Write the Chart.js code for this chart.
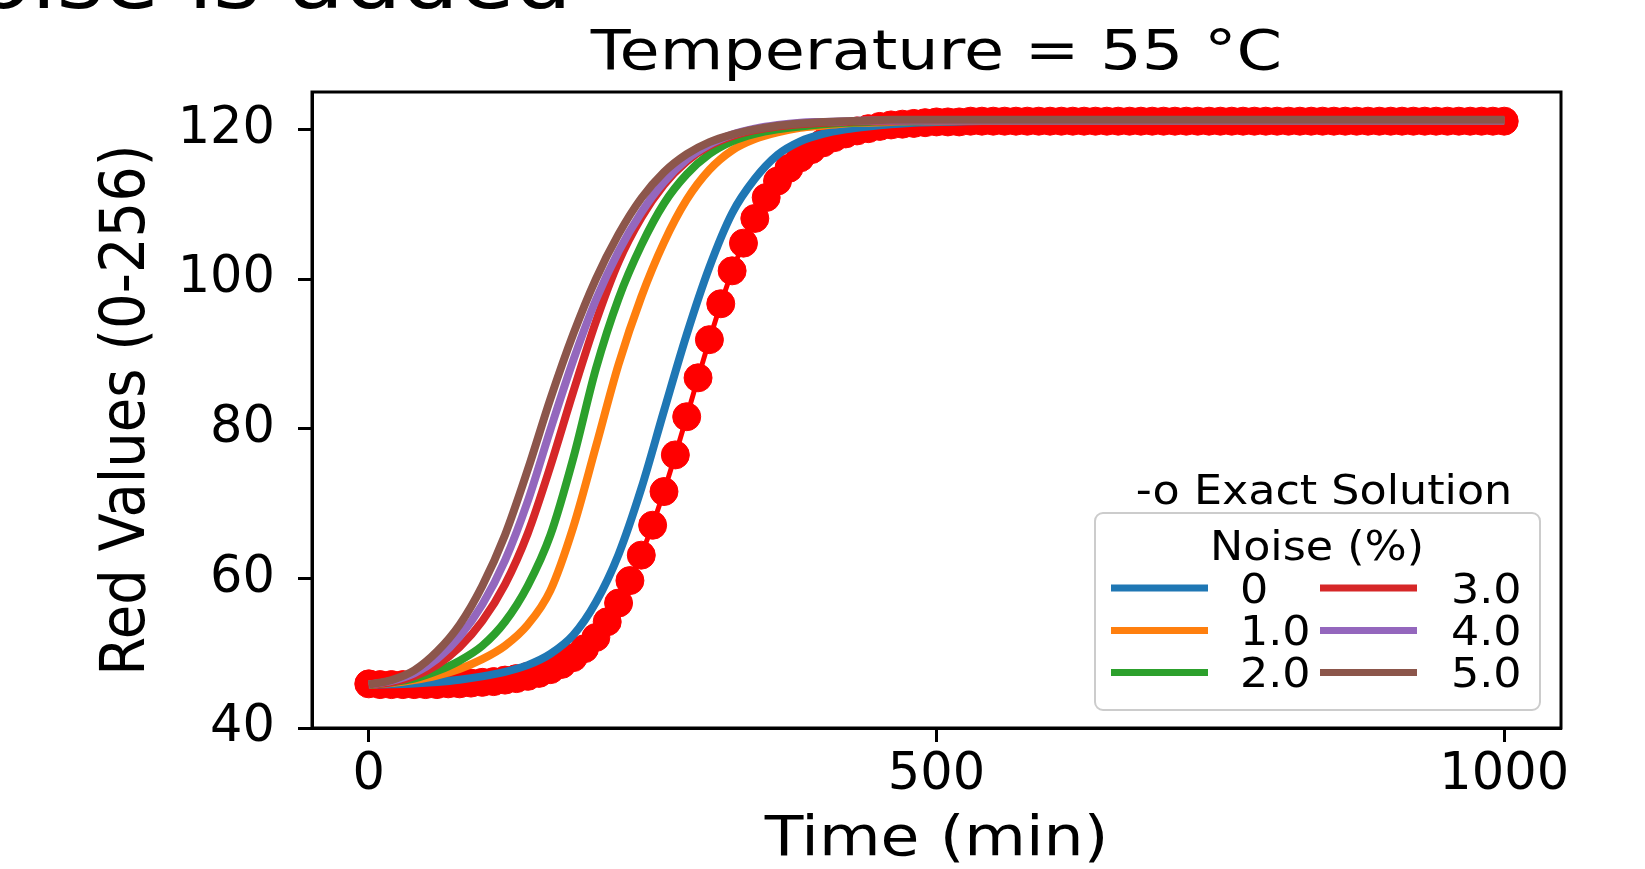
<!DOCTYPE html>
<html><head><meta charset="utf-8">
<script src="https://cdn.jsdelivr.net/npm/chart.js@4.4.0/dist/chart.umd.min.js"></script>
<style>html,body{margin:0;padding:0;background:#fff;overflow:hidden}canvas{display:block}</style>
</head><body>
<canvas id="c" width="1645" height="869"></canvas>
<script>
const chartTitle = 'Temperature = 55 \u00B0C';
const xAxisTitle = 'Time (min)';
const yAxisTitle = 'Red Values (0-256)';
const topFragment = 'noise is added';
const exactLabel = '-o Exact Solution';
const legendTitle = 'Noise (%)';
const xTicks = [0, 500, 1000];
const yTicks = [40, 60, 80, 100, 120];

const exactTime = [0,10,20,30,40,50,60,70,80,90,100,110,120,130,140,150,160,170,180,190,200,210,220,230,240,250,260,270,280,290,300,310,320,330,340,350,360,370,380,390,400,410,420,430,440,450,460,470,480,490,500,510,520,530,540,550,560,570,580,590,600,610,620,630,640,650,660,670,680,690,700,710,720,730,740,750,760,770,780,790,800,810,820,830,840,850,860,870,880,890,900,910,920,930,940,950,960,970,980,990,1000];
const exactValues = [45.9,45.8,45.8,45.8,45.8,45.8,45.8,45.9,45.9,46.0,46.1,46.2,46.4,46.6,46.9,47.3,47.8,48.5,49.4,50.6,52.1,54.2,56.7,59.7,63.1,67.1,71.6,76.5,81.6,86.8,91.9,96.7,101.1,104.8,108.1,110.9,113.1,114.8,116.2,117.3,118.2,118.9,119.4,119.8,120.1,120.4,120.6,120.7,120.8,120.9,121.0,121.0,121.0,121.1,121.1,121.1,121.1,121.1,121.1,121.1,121.1,121.1,121.1,121.1,121.1,121.1,121.1,121.1,121.1,121.1,121.1,121.1,121.1,121.1,121.1,121.1,121.1,121.1,121.1,121.1,121.1,121.1,121.1,121.1,121.1,121.1,121.1,121.1,121.1,121.1,121.1,121.1,121.1,121.1,121.1,121.1,121.1,121.1,121.1,121.1,121.1];

const noiseTime = [0,20,40,60,80,100,120,140,160,180,200,220,240,260,280,300,320,340,360,380,400,420,440,460,480,500,600,700,800,900,1000];
const noise0 = [45.8,45.85,45.95,46.15,46.45,46.9,47.5,48.4,49.9,52.4,56.8,63.2,72.0,82.4,92.6,101.6,108.8,113.4,116.6,118.4,119.4,120.0,120.4,120.7,120.9,121.0,121.2,121.2,121.2,121.2,121.2];
const noise1 = [45.8,46.0,46.4,47.0,47.9,49.2,51.0,53.8,58.4,66.8,77.6,88.6,97.6,104.9,110.6,114.6,117.2,118.7,119.6,120.2,120.5,120.8,120.9,121.0,121.1,121.1,121.2,121.2,121.2,121.2,121.2];
const noise2 = [45.8,46.1,46.6,47.6,49.0,51.0,54.2,59.0,65.8,76.0,88.0,97.4,104.5,110.1,114.0,116.7,118.4,119.4,120.0,120.4,120.7,120.9,121.0,121.1,121.1,121.2,121.2,121.2,121.2,121.2,121.2];
const noise3 = [45.8,46.1,46.9,48.4,50.8,54.3,59.2,66.0,75.0,84.9,94.3,102.3,108.2,112.6,115.7,117.8,119.1,119.9,120.4,120.7,120.9,121.0,121.1,121.1,121.2,121.2,121.2,121.2,121.2,121.2,121.2];
const noise4 = [45.8,46.3,47.3,49.2,52.2,56.5,62.4,70.3,79.9,89.1,97.2,103.7,108.9,113.0,116.0,118.0,119.3,120.1,120.6,120.9,121.0,121.1,121.2,121.2,121.2,121.2,121.2,121.2,121.2,121.2,121.2];
const noise5 = [45.8,46.4,47.7,50.2,53.8,59.0,65.8,74.5,84.0,92.6,100.0,106.0,110.8,114.3,116.7,118.3,119.3,120.0,120.5,120.8,121.0,121.1,121.2,121.3,121.3,121.3,121.3,121.3,121.3,121.3,121.3];
const noiseSeries = [noise0, noise1, noise2, noise3, noise4, noise5];
const noiseLabels = ['0', '1.0', '2.0', '3.0', '4.0', '5.0'];
const noiseColors = ['#1f77b4', '#ff7f0e', '#2ca02c', '#d62728', '#9467bd', '#8c564b'];

const FONT = 'DejaVu Sans';
Chart.defaults.font.family = FONT;
Chart.defaults.color = '#000';

const datasets = [{
  label: 'Exact Solution',
  data: exactTime.map((t, i) => ({x: t, y: exactValues[i]})),
  borderColor: '#ff0000', backgroundColor: '#ff0000',
  borderWidth: 5, tension: 0,
  pointRadius: 14, pointBorderWidth: 1,
  pointBackgroundColor: '#ff0000', pointBorderColor: '#ff0000',
  order: 7
}];
noiseSeries.forEach((s, k) => {
  datasets.push({
    label: noiseLabels[k],
    data: noiseTime.map((t, i) => ({x: t, y: s[i]})),
    borderColor: noiseColors[k], backgroundColor: noiseColors[k],
    borderWidth: 8, pointRadius: 0, cubicInterpolationMode: 'monotone',
    borderCapStyle: 'butt', order: 6 - k
  });
});

function wideText(ctx, text, x, y, sx, align, baseline, rot) {
  ctx.save();
  ctx.translate(x, y);
  if (rot) { ctx.rotate(rot); ctx.scale(1, sx); } else { ctx.scale(sx, 1); }
  ctx.textAlign = align;
  ctx.textBaseline = baseline;
  ctx.fillText(text, 0, 0);
  ctx.restore();
}

const decor = {
  id: 'decor',
  afterDatasetsDraw(chart) {
    const {ctx, chartArea: a} = chart;
    ctx.save();
    ctx.strokeStyle = '#000'; ctx.lineWidth = 3;
    ctx.strokeRect(a.left, a.top, a.right - a.left, a.bottom - a.top);
    ctx.restore();
  },
  afterDraw(chart) {
    const {ctx, chartArea: a} = chart;
    const cx = (a.left + a.right) / 2;
    const cy = (a.top + a.bottom) / 2;
    ctx.save();
    ctx.fillStyle = '#000';
    // cut-off text fragment at the top edge
    ctx.font = '80px "' + FONT + '"';
    wideText(ctx, topFragment, 572, 8, 1.13, 'right', 'alphabetic');
    // chart title and axis titles
    ctx.font = '56px "' + FONT + '"';
    wideText(ctx, chartTitle, cx, 54, 1.165, 'center', 'middle');
    wideText(ctx, xAxisTitle, cx, 840, 1.13, 'center', 'middle');
    wideText(ctx, yAxisTitle, 128, cy, 1.12, 'center', 'middle', -Math.PI / 2);
    // exact solution note
    ctx.font = '40px "' + FONT + '"';
    wideText(ctx, exactLabel, 1324, 504, 1.11, 'center', 'alphabetic');
    // legend frame
    ctx.beginPath();
    ctx.roundRect(1095, 513, 445, 197, 8);
    ctx.fillStyle = 'rgba(255,255,255,0.8)'; ctx.fill();
    ctx.strokeStyle = '#cccccc'; ctx.lineWidth = 2; ctx.stroke();
    ctx.fillStyle = '#000';
    wideText(ctx, legendTitle, 1317, 560, 1.11, 'center', 'alphabetic');
    const rows = [588, 630.5, 672.5];
    const lineX = [1111, 1320];
    const textX = [1240, 1451];
    chart.data.datasets.slice(1).forEach((d, i) => {
      const col = i < 3 ? 0 : 1, row = i % 3;
      const y = rows[row];
      ctx.strokeStyle = d.borderColor; ctx.lineWidth = 7; ctx.lineCap = 'butt';
      ctx.beginPath(); ctx.moveTo(lineX[col], y); ctx.lineTo(lineX[col] + 97, y); ctx.stroke();
      ctx.fillStyle = '#000';
      wideText(ctx, d.label, textX[col], y + 14.5, 1.11, 'left', 'alphabetic');
    });
    ctx.restore();
  }
};

new Chart(document.getElementById('c'), {
  type: 'line',
  data: {datasets},
  options: {
    responsive: false, animation: false, devicePixelRatio: 1,
    layout: {padding: {left: 0, right: 84, top: 92, bottom: 0}},
    plugins: {legend: {display: false}, tooltip: {enabled: false}, title: {display: false}},
    scales: {
      x: {
        type: 'linear', min: -50, max: 1050,
        afterBuildTicks: s => { s.ticks = xTicks.map(v => ({value: v})); },
        afterFit: s => { s.height = 141; },
        ticks: {font: {size: 51, lineHeight: 1}, color: '#000', padding: 8, maxRotation: 0, autoSkip: false,
                callback: v => String(v)},
        grid: {display: true, drawOnChartArea: false, drawTicks: true, tickLength: 14, tickWidth: 3, tickColor: '#000'},
        border: {display: true, color: '#000', width: 3},
        title: {display: false, text: xAxisTitle}
      },
      y: {
        type: 'linear', min: 40, max: 125,
        afterBuildTicks: s => { s.ticks = yTicks.map(v => ({value: v})); },
        afterFit: s => { s.width = 312; },
        ticks: {font: {size: 51, lineHeight: 1}, color: '#000', padding: 23, autoSkip: false,
                callback: v => String(v)},
        grid: {display: true, drawOnChartArea: false, drawTicks: true, tickLength: 14, tickWidth: 3, tickColor: '#000'},
        border: {display: true, color: '#000', width: 3},
        title: {display: false, text: yAxisTitle}
      }
    }
  },
  plugins: [decor]
});
</script>
</body></html>
